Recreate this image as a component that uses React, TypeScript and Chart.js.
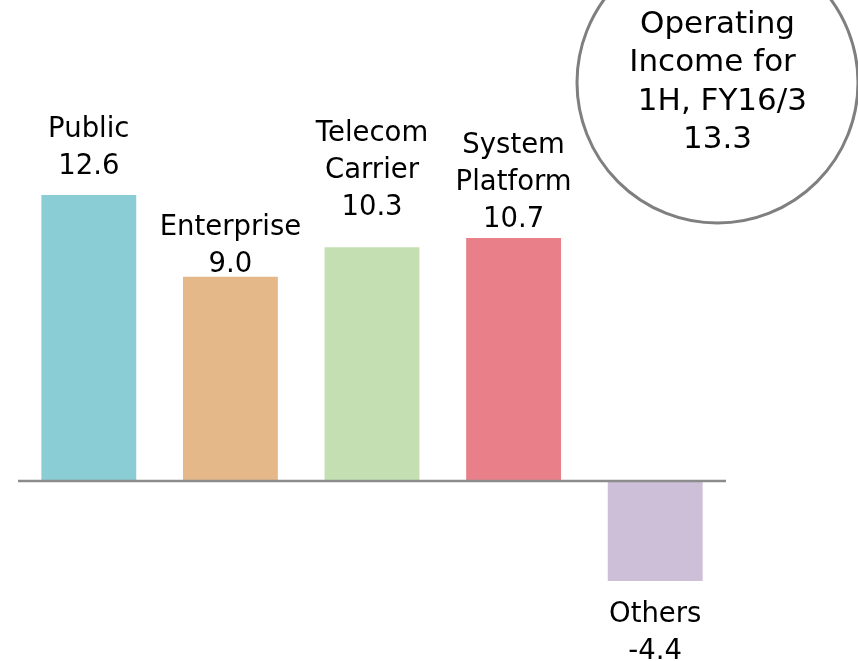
import React, { useEffect, useRef } from "react";
import { Chart, registerables } from "chart.js";

Chart.register(...registerables);

const categories: string[][] = [
  ["Public"],
  ["Enterprise"],
  ["Telecom", "Carrier"],
  ["System", "Platform"],
  ["Others"],
];
const values: number[] = [12.6, 9.0, 10.3, 10.7, -4.4];
const barColors: string[] = ["#8ACDD5", "#E4B888", "#C4E0B2", "#E98089", "#CDBFD8"];
const totalTitle: string[] = ["Operating", "Income for ", " 1H, FY16/3"];
const totalValue: number = 13.3;

const FONT = '27.5px "DejaVu Sans", Verdana, sans-serif';
const CIRCLE_FONT = '31px "DejaVu Sans", Verdana, sans-serif';
const LINE_H = 37;
// gap between the last text baseline and the bar top (positive bars) / first baseline below bar (negative)
const labelGaps = [21, 5, 32, 11, 41];

const labelPlugin = {
  id: "segLabels",
  afterDatasetsDraw(chart: any) {
    const { ctx, scales } = chart;
    const meta = chart.getDatasetMeta(0);
    const y0 = scales.y.getPixelForValue(0);
    // zero line
    ctx.save();
    ctx.strokeStyle = "#8C8C8C";
    ctx.lineWidth = 2.5;
    ctx.beginPath();
    ctx.moveTo(chart.chartArea.left, y0);
    ctx.lineTo(chart.chartArea.right, y0);
    ctx.stroke();

    ctx.font = FONT;
    ctx.fillStyle = "#000000";
    ctx.textAlign = "center";
    ctx.textBaseline = "alphabetic";
    meta.data.forEach((bar: any, i: number) => {
      const lines = [...categories[i], values[i].toFixed(1)];
      const x = bar.x;
      if (values[i] >= 0) {
        const lastBase = bar.y - labelGaps[i];
        lines.forEach((t, j) => {
          ctx.fillText(t, x, lastBase - (lines.length - 1 - j) * LINE_H);
        });
      } else {
        const firstBase = bar.y + labelGaps[i];
        lines.forEach((t, j) => {
          ctx.fillText(t, x, firstBase + j * LINE_H);
        });
      }
    });

    // total circle
    const cx = 717.5;
    const cy = 82.5;
    const r = 140.5;
    ctx.strokeStyle = "#7F7F7F";
    ctx.lineWidth = 3;
    ctx.beginPath();
    ctx.arc(cx, cy, r, 0, Math.PI * 2);
    ctx.stroke();
    ctx.font = CIRCLE_FONT;
    const tl = [...totalTitle, totalValue.toFixed(1)];
    tl.forEach((t, j) => {
      ctx.fillText(t, cx, 33 + j * 38.3);
    });
    ctx.restore();
  },
};

export default function App() {
  const ref = useRef<HTMLCanvasElement | null>(null);
  useEffect(() => {
    if (!ref.current) return;
    const chart = new Chart(ref.current, {
      type: "bar",
      data: {
        labels: categories.map((c) => c.join(" ")),
        datasets: [
          {
            data: values,
            backgroundColor: barColors,
            borderWidth: 0,
            categoryPercentage: 1,
            barPercentage: 0.67,
          },
        ],
      },
      options: {
        animation: false,
        responsive: true,
        maintainAspectRatio: false,
        layout: { padding: { left: 18, right: 132, top: 4.3, bottom: 9.75 } },
        plugins: { legend: { display: false }, tooltip: { enabled: false } },
        scales: {
          x: { display: false },
          y: { display: false, min: -7.5, max: 21 },
        },
      },
      plugins: [labelPlugin],
    });
    return () => chart.destroy();
  }, []);
  return (
    <div style={{ position: "absolute", left: 0, top: 0, width: 858, height: 661, background: "#fff" }}>
      <canvas ref={ref} />
    </div>
  );
}
